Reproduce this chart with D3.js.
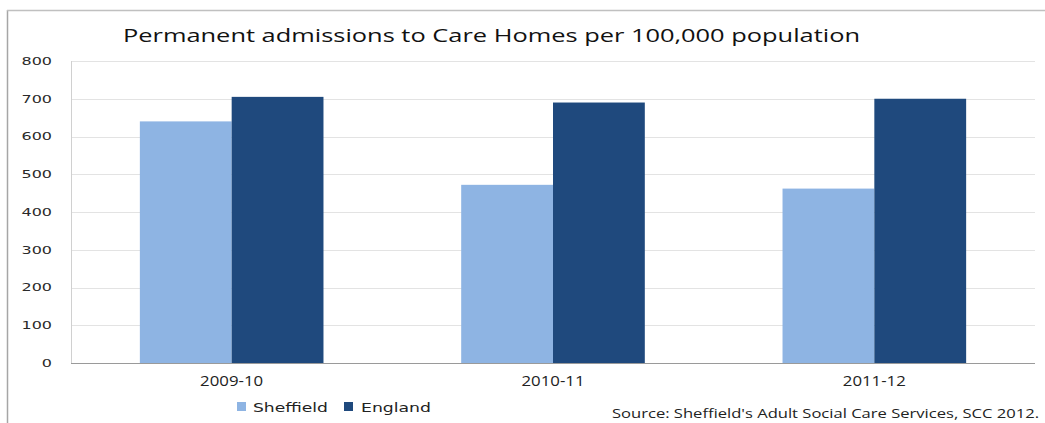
<!DOCTYPE html>
<html>
<head>
<meta charset="utf-8">
<script src="https://cdn.jsdelivr.net/npm/d3@7"></script>
<style>
  html, body { margin: 0; padding: 0; background: #fff; }
  svg { display: block; }
</style>
</head>
<body>
<svg id="chart" width="1045" height="423"></svg>
<script>
// Permanent admissions to care homes per 100,000 population
const categories = ["2009-10", "2010-11", "2011-12"];
const seriesNames = ["Sheffield", "England"];
const sheffield = [640, 472, 462];
const england = [705, 690, 700];
const yTicks = [0, 100, 200, 300, 400, 500, 600, 700, 800];
const titleText = "Permanent admissions to Care Homes per 100,000 population";
const sourceText = "Source: Sheffield's Adult Social Care Services, SCC 2012.";

const colors = { Sheffield: "#8EB4E3", England: "#1F497D" };

const svg = d3.select("#chart");
const W = 1045, H = 423;
const plot = { left: 71, right: 1035, top: 61, bottom: 363 };

// frame lines around the chart
svg.append("line").attr("x1", 7.5).attr("x2", 7.5).attr("y1", 10).attr("y2", H)
  .attr("stroke", "#a6a6a6").attr("stroke-width", 1.5);
svg.append("line").attr("x1", 7).attr("x2", W).attr("y1", 10.5).attr("y2", 10.5)
  .attr("stroke", "#c0c0c0").attr("stroke-width", 1.5);

const x0 = d3.scaleBand().domain(categories).range([plot.left, plot.right]).paddingInner(0).paddingOuter(0);
const x1 = d3.scaleBand().domain(seriesNames).range([0, x0.bandwidth()]).paddingInner(0).paddingOuter(0.75);
const y = d3.scaleLinear().domain([0, 800]).range([plot.bottom, plot.top]);

// gridlines
svg.append("g").selectAll("line").data(yTicks.filter(d => d > 0)).join("line")
  .attr("x1", plot.left).attr("x2", plot.right)
  .attr("y1", d => Math.round(y(d)) + 0.5).attr("y2", d => Math.round(y(d)) + 0.5)
  .attr("stroke", "#e3e3e3").attr("stroke-width", 1);

// value axis line
svg.append("line").attr("x1", plot.left + 0.5).attr("x2", plot.left + 0.5)
  .attr("y1", plot.top).attr("y2", plot.bottom)
  .attr("stroke", "#d0d0d0");

// bars
const data = categories.map((c, i) => ({ cat: c, vals: [
  { name: "Sheffield", v: sheffield[i] },
  { name: "England", v: england[i] }
]}));

const groups = svg.append("g").selectAll("g").data(data).join("g")
  .attr("transform", d => `translate(${x0(d.cat)},0)`);
groups.selectAll("rect").data(d => d.vals).join("rect")
  .attr("x", d => x1(d.name))
  .attr("width", x1.bandwidth())
  .attr("y", d => y(d.v))
  .attr("height", d => y(0) - y(d.v))
  .attr("fill", d => colors[d.name]);

// category axis line
svg.append("line").attr("x1", plot.left).attr("x2", plot.right)
  .attr("y1", plot.bottom + 0.5).attr("y2", plot.bottom + 0.5)
  .attr("stroke", "#9a9a9a").attr("stroke-width", 1.2);

// stretch helper: widen text horizontally by a factor
function stretch(sel, k) {
  sel.each(function () {
    const w = this.getComputedTextLength();
    d3.select(this).attr("textLength", w * k).attr("lengthAdjust", "spacingAndGlyphs");
  });
}

// y tick labels
const yl = svg.append("g").selectAll("text").data(yTicks).join("text")
  .attr("x", 52).attr("y", d => y(d)).attr("dy", "0.35em")
  .attr("text-anchor", "end")
  .attr("font-family", "DejaVu Sans").attr("font-size", 11).attr("fill", "#2a2a2a")
  .text(d => d);
stretch(yl, 1.45);

// x tick labels
const xl = svg.append("g").selectAll("text").data(categories).join("text")
  .attr("x", d => x0(d) + x0.bandwidth() / 2).attr("y", 386)
  .attr("text-anchor", "middle")
  .attr("font-family", "Open Sans").attr("font-size", 14).attr("fill", "#222")
  .text(d => d);
stretch(xl, 1.2);

// title
svg.append("text").attr("x", 123).attr("y", 42)
  .attr("font-family", "Open Sans").attr("font-size", 19).attr("fill", "#111")
  .attr("textLength", 737).attr("lengthAdjust", "spacingAndGlyphs")
  .text(titleText);

// legend
const legendItems = [
  { name: "Sheffield", sx: 237, tx: 253, tw: 75 },
  { name: "England", sx: 344, tx: 361, tw: 70 }
];
const lg = svg.append("g");
lg.selectAll("rect").data(legendItems).join("rect")
  .attr("x", d => d.sx).attr("y", 402).attr("width", 9).attr("height", 9)
  .attr("fill", d => colors[d.name]);
lg.selectAll("text").data(legendItems).join("text")
  .attr("x", d => d.tx).attr("y", 412)
  .attr("font-family", "DejaVu Sans").attr("font-size", 12).attr("fill", "#222")
  .attr("textLength", d => d.tw).attr("lengthAdjust", "spacingAndGlyphs")
  .text(d => d.name);

// source note
svg.append("text").attr("x", 612).attr("y", 418)
  .attr("font-family", "Open Sans").attr("font-size", 13).attr("fill", "#222")
  .attr("textLength", 427).attr("lengthAdjust", "spacingAndGlyphs")
  .text(sourceText);
</script>
</body>
</html>
